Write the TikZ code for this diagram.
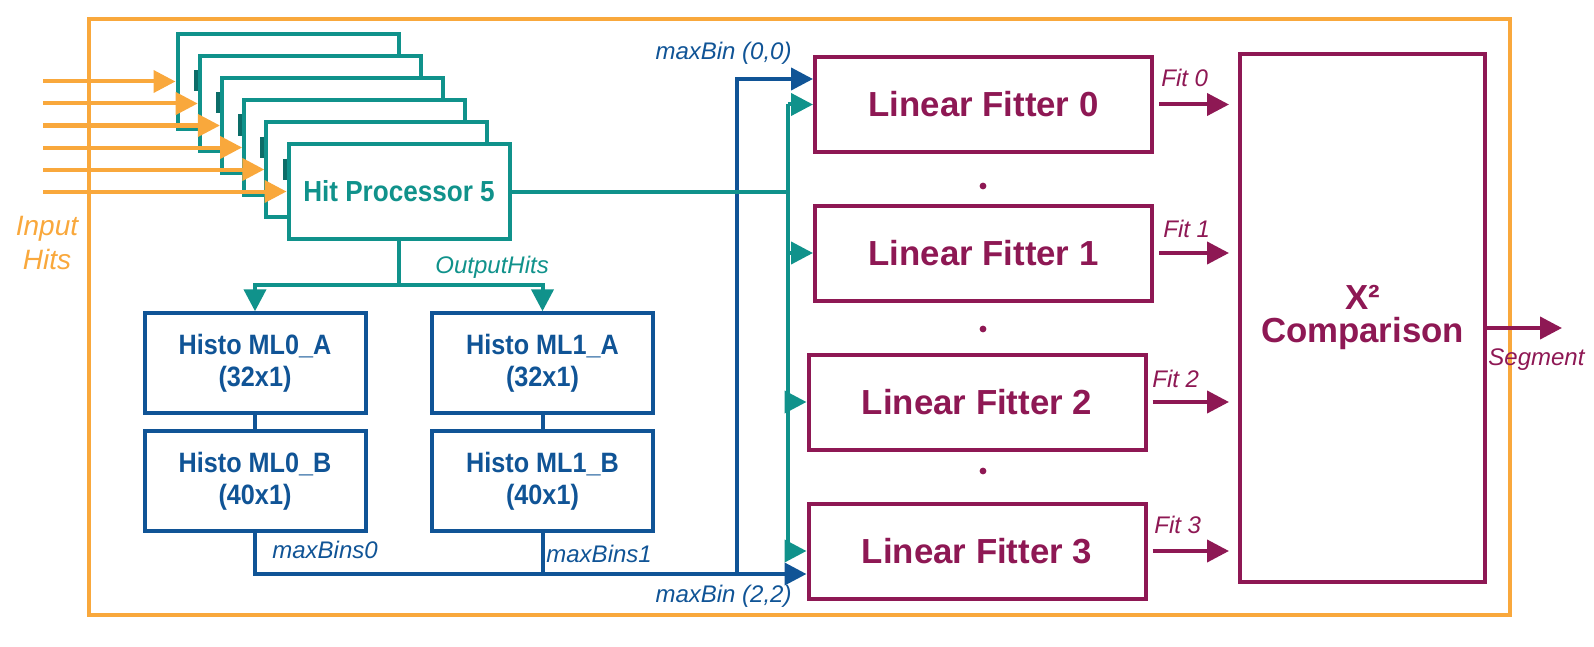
\documentclass[tikz,border=0pt]{standalone}
\usepackage{fontspec}
\setmainfont{Liberation Sans}
\newfontfamily\condfont[FakeStretch=0.9]{Liberation Sans}
\usepackage{xcolor}
\usepackage{tikz}
\usetikzlibrary{arrows.meta,positioning,calc}
\definecolor{hitorange}{RGB}{249,168,60}
\definecolor{hitteal}{RGB}{16,146,139}
\definecolor{histoblue}{RGB}{16,84,150}
\definecolor{fitmaroon}{RGB}{142,24,84}

\tikzset{
  wire/.style={line width=2pt},
  tip/.style={-{Triangle[length=11pt,width=11pt]}},
  hpbox/.style={draw=hitteal, wire, fill=white, minimum width=110.5pt, minimum height=47.5pt, inner sep=0pt},
  histobox/.style={draw=histoblue, wire, fill=white, minimum width=110.5pt, minimum height=50pt, inner sep=0pt,
    align=center, text=histoblue, font=\condfont\bfseries\fontsize{14}{16}\selectfont},
  fitbox/.style={draw=fitmaroon, wire, fill=white, minimum width=168.5pt, minimum height=47.5pt, inner sep=0pt,
    text=fitmaroon, font=\bfseries\fontsize{17.4}{20}\selectfont},
  lbl/.style={font=\itshape\fontsize{12}{14}\selectfont, inner sep=0pt},
}

\begin{document}
\begin{tikzpicture}[x=0.5pt,y=-0.5pt]
    \useasboundingbox (0,0) rectangle (1594,647);
    % Frame
    \draw[hitorange, line width=2pt] (88.6,19) rectangle (1510,615);
    % Hit processors
    \foreach \k in {0,...,4} {
        \node[hpbox] (hp\k) at ({288+22.2*\k},{81.5+22*\k}) {};
    }
    \node[hpbox, text=hitteal, font=\condfont\bfseries\fontsize{14.5}{17}\selectfont] (hp5) at (399,191.5) {Hit Processor 5};
    \foreach \k in {1,...,5} {
        \draw[hitteal!75!black, line width=2pt] ($(hp\k.west)+(-2,-33)$) -- ($(hp\k.west)+(-2,-12)$);
    }
    % Input hits
    \foreach \k in {0,...,5} {
        \coordinate (in\k) at (43,{81.5+22*\k});
        \draw[wire, hitorange, tip] (in\k) -- (hp\k.west);
    }
    \node[font=\itshape\fontsize{14}{17}\selectfont, text=hitorange, align=center, inner sep=0pt] (inlbl) at (47,243) {Input\\Hits};
    % Histograms
    \node[histobox] (ml0a) at (255,363.3) {Histo ML0\_A\\(32x1)};
    \node[histobox] (ml0b) at (255,481) {Histo ML0\_B\\(40x1)};
    \node[histobox] (ml1a) at (542.5,363.3) {Histo ML1\_A\\(32x1)};
    \node[histobox] (ml1b) at (542.5,481) {Histo ML1\_B\\(40x1)};
    \draw[wire, histoblue] (ml0a.south) -- (ml0b.north);
    \draw[wire, histoblue] (ml1a.south) -- (ml1b.north);
    % Output hits
    \coordinate (hsplit) at ($(hp5.south)+(0,44)$);
    \draw[wire, hitteal] (hp5.south) -- (hsplit);
    \draw[wire, hitteal, tip] (hsplit) -| (ml0a.north);
    \draw[wire, hitteal, tip] (hsplit) -| (ml1a.north);
    \node[lbl, text=hitteal, anchor=base west] (outlbl) at (435,273) {OutputHits};
    % Linear fitters
    \node[fitbox] (lf0) at (983.5,104.5) {Linear Fitter 0};
    \node[fitbox] (lf1) at (983.5,253) {Linear Fitter 1};
    \node[fitbox] (lf2) at (977,402) {Linear Fitter 2};
    \node[fitbox] (lf3) at (977,551) {Linear Fitter 3};
    \foreach \y in {186,329,471} {
        \fill[fitmaroon] (983,\y) circle (1.7pt);
    }
    % Chi2 comparison
    \node[draw=fitmaroon, wire, fill=white, minimum width=122.5pt, minimum height=264pt, inner sep=0pt,
        text=fitmaroon, align=center, font=\bfseries\fontsize{17.4}{16.5}\selectfont] (chi) at (1362.5,317.7) {X²\\Comparison};
    % Max bins
    \coordinate (bbus) at ($(ml0b.south)+(0,41)$);
    \coordinate (vbus) at (736.7,572);
    \coordinate (tbus) at (736.7,79);
    \draw[wire, histoblue, tip] (ml0b.south) -- (bbus) -- (bbus -| lf3.west);
    \draw[wire, histoblue] (ml1b.south) -- (ml1b.south |- bbus);
    \draw[wire, histoblue, tip] (vbus) -- (tbus) -- (tbus -| lf0.west);
    \node[lbl, text=histoblue, anchor=base west] (mbs0) at (272,558) {maxBins0};
    \node[lbl, text=histoblue, anchor=base west] (mbs1) at (546,562) {maxBins1};
    \node[lbl, text=histoblue, anchor=base east] (mb00) at (792,60) {maxBin (0,0)};
    \node[lbl, text=histoblue, anchor=base east] (mb22) at (792,602) {maxBin (2,2)};
    % Hits to fitters
    \coordinate (ttop) at (788,104.5);
    \coordinate (tbot) at (788,551);
    \draw[wire, hitteal] (hp5.east) -- (hp5.east -| ttop);
    \draw[wire, hitteal] (ttop) -- (tbot);
    \foreach \k in {0,...,3} {
        \draw[wire, hitteal, tip] (lf\k.west -| ttop) -- (lf\k.west);
    }
    % Fits
    \foreach \k in {0,...,3} {
        \draw[wire, fitmaroon, tip, shorten <=2.5pt, shorten >=4.5pt] (lf\k.east) -- (lf\k.east -| chi.west);
    }
    \node[lbl, text=fitmaroon, anchor=base west] (fit0) at (1161,87) {Fit 0};
    \node[lbl, text=fitmaroon, anchor=base west] (fit1) at (1163,237) {Fit 1};
    \node[lbl, text=fitmaroon, anchor=base west] (fit2) at (1152,387) {Fit 2};
    \node[lbl, text=fitmaroon, anchor=base west] (fit3) at (1154,533) {Fit 3};
    % Segment
    \coordinate (segout) at (1562,328);
    \draw[wire, fitmaroon, tip] (chi.east |- segout) -- (segout);
    \node[lbl, text=fitmaroon, anchor=base west] (seglbl) at (1488,365) {Segment};
\end{tikzpicture}
\end{document}
